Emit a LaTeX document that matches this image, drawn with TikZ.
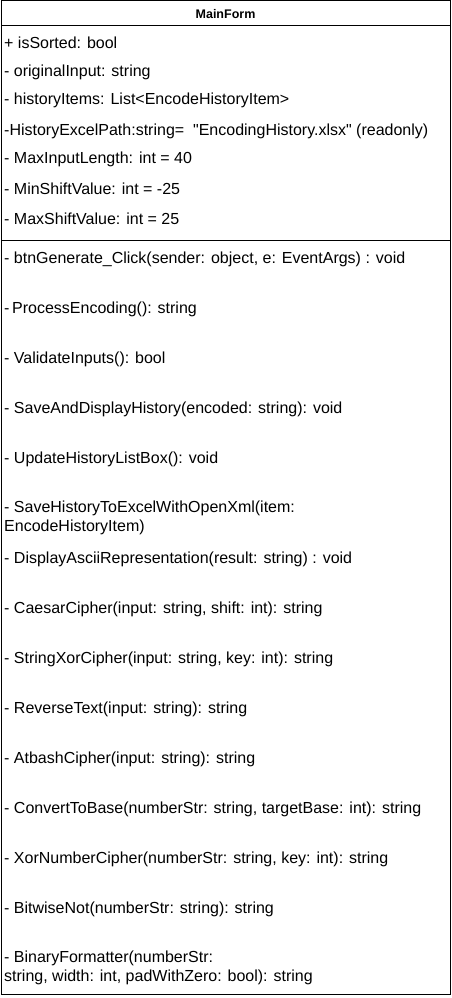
\documentclass[tikz,border=0pt]{standalone}
\usepackage{fontspec}
\setmainfont{Liberation Sans}
\newcommand\StraightQuote{\XeTeXglyph\XeTeXglyphindex "quotedbl"\relax}
\newcommand\ClassMember[3]{%
    \node[member] (#1) at (4,#2) {#3};
}

\begin{document}
\begin{tikzpicture}[x=1pt,y=-1pt,
    member/.style={anchor=west,inner sep=0pt,font=\fontsize{16}{18.4}\selectfont,align=left},
    classbox/.style={draw=black,line width=1pt}]
    \useasboundingbox (0,0) rectangle (452,998);
    % class frame
    \draw[classbox] (1,1) rectangle (450,994);
    \draw[classbox] (1,26) -- (450,26);
    \draw[classbox] (1,240) -- (450,240);
    \node[font=\bfseries\fontsize{12.5}{14}\selectfont] (MainForm) at (225.5,14) {MainForm};
    % attributes
    \ClassMember{IsSorted}{43}{+ isSorted: bool}
    \ClassMember{OriginalInput}{72}{- originalInput: string}
    \ClassMember{HistoryItems}{100}{- historyItems: List<EncodeHistoryItem>}
    \ClassMember{ExcelPath}{131}{-HistoryExcelPath:string=\ \ \StraightQuote EncodingHistory.xlsx\StraightQuote{} (readonly)}
    \ClassMember{MaxInput}{159}{- MaxInputLength: int = 40}
    \ClassMember{MinShift}{189}{- MinShiftValue: int = -25}
    \ClassMember{MaxShift}{219}{- MaxShiftValue: int = 25}
    % operations
    \ClassMember{BtnGenerate}{259}{- btnGenerate\_Click(sender: object, e: EventArgs) : void}
    \ClassMember{ProcessEnc}{309}{-\,ProcessEncoding(): string}
    \ClassMember{Validate}{359}{- ValidateInputs(): bool}
    \ClassMember{SaveDisplay}{409}{- SaveAndDisplayHistory(encoded: string): void}
    \ClassMember{UpdateList}{459}{- UpdateHistoryListBox(): void}
    \ClassMember{SaveExcel}{518}{- SaveHistoryToExcelWithOpenXml(item:\\EncodeHistoryItem)}
    \ClassMember{DisplayAscii}{559}{- DisplayAsciiRepresentation(result: string) : void}
    \ClassMember{Caesar}{609}{- CaesarCipher(input: string, shift: int): string}
    \ClassMember{StringXor}{659}{- StringXorCipher(input: string, key: int): string}
    \ClassMember{Reverse}{709}{- ReverseText(input: string): string}
    \ClassMember{Atbash}{759}{- AtbashCipher(input: string): string}
    \ClassMember{ToBase}{809}{- ConvertToBase(numberStr: string, targetBase: int): string}
    \ClassMember{XorNumber}{859}{- XorNumberCipher(numberStr: string, key: int): string}
    \ClassMember{BitNot}{909}{- BitwiseNot(numberStr: string): string}
    \ClassMember{BinFormat}{968}{- BinaryFormatter(numberStr:\\string, width: int, padWithZero: bool): string}
\end{tikzpicture}
\end{document}
